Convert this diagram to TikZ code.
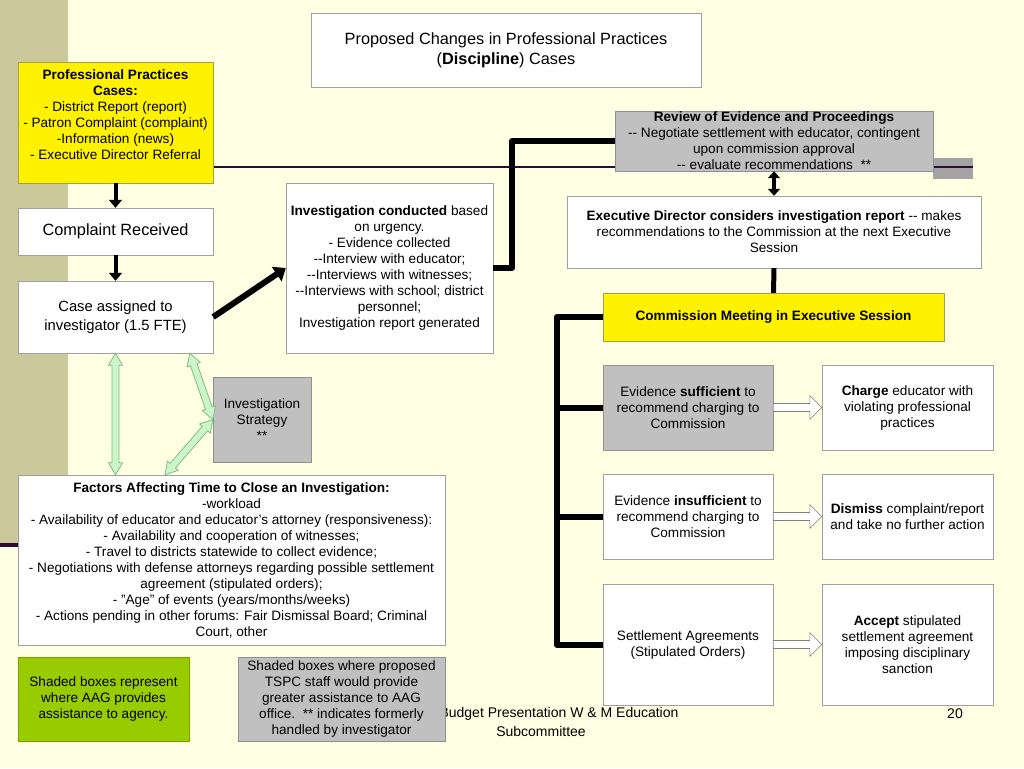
\documentclass[tikz,border=0pt]{standalone}
\usepackage{fontspec}
\setmainfont{Liberation Sans}
\usetikzlibrary{calc,arrows.meta}

\definecolor{slidebg}{HTML}{FFFFE3}
\definecolor{band}{HTML}{CBC89C}
\definecolor{rule}{HTML}{2E0B36}
\definecolor{boxline}{HTML}{A0A0A0}
\definecolor{shade}{HTML}{C0C0C0}
\definecolor{aag}{HTML}{99CC00}
\definecolor{mint}{HTML}{CCF5CC}
\definecolor{mintline}{HTML}{7DBF7D}

\tikzset{
  box/.style={draw=boxline, fill=white, align=center, inner sep=0pt,
    font=\fontsize{13.6}{16}\selectfont},
  shaded/.style={box, fill=shade, draw=shade!75!black},
  yellowbox/.style={box, fill=yellow, draw=yellow!60!black},
  greenbox/.style={box, fill=aag, draw=aag!80!black},
  flow/.style={line width=4, -{Triangle[length=8pt,width=13pt]}},
  bracket/.style={line width=6, line join=round},
  hollow/.style={draw=gray, fill=white, line width=0.6},
  mintarrow/.style={draw=mintline, fill=mint, line width=0.8},
  footer/.style={font=\fontsize{14}{17}\selectfont}
}

\newcommand{\blockarrow}[3][]{%
  \coordinate (ba-n) at ($(#3)!12pt!(#2)$);
  \draw[#1] ($(#2)!4pt!90:(#3)$) -- ($(ba-n)!4pt!-90:(#2)$)
    -- ($(ba-n)!12pt!-90:(#2)$) -- (#3)
    -- ($(ba-n)!12pt!90:(#2)$) -- ($(ba-n)!4pt!90:(#2)$)
    -- ($(#2)!4pt!-90:(#3)$) -- cycle;}

\newcommand{\dblarrow}[3][]{%
  \coordinate (da-m) at ($(#2)!12pt!(#3)$);
  \coordinate (da-n) at ($(#3)!12pt!(#2)$);
  \draw[#1] (#2) -- ($(da-m)!7pt!90:(#3)$) -- ($(da-m)!3.5pt!90:(#3)$)
    -- ($(da-n)!3.5pt!-90:(#2)$) -- ($(da-n)!7pt!-90:(#2)$) -- (#3)
    -- ($(da-n)!7pt!90:(#2)$) -- ($(da-n)!3.5pt!90:(#2)$)
    -- ($(da-m)!3.5pt!-90:(#3)$) -- ($(da-m)!7pt!-90:(#3)$) -- cycle;}

\begin{document}
\begin{tikzpicture}[x=1pt,y=-1pt]
            \useasboundingbox (0,0) rectangle (1024,768);
            \fill [slidebg] (0,0) rectangle (1024,768);
            \fill [band] (0,0) rectangle (68,545);
            \draw [rule, line width=4] (0,545) -- (200,545);
            \fill [shade!85!black] (933,158) rectangle (973,179);
            \draw [rule, line width=2] (100,167) -- (973,167);

            \node at (436,714) [anchor=west, footer] (foot) {Budget Presentation W \& M Education};
            \node at (541,731) [footer] (foot2) {Subcommittee};
            \node at (955,714) [footer] (page) {20};

            \node at (506,50) [box, minimum width=390, minimum height=74, font=\fontsize{16.3}{20}\selectfont] (title)
                {Proposed Changes in Professional Practices\\(\textbf{Discipline}) Cases};
            \node at (115.5,122.5) [yellowbox, minimum width=195, minimum height=121, text depth=16pt] (cases)
                {\textbf{Professional Practices}\\\textbf{Cases:}\\- District Report (report)\\- Patron Complaint (complaint)\\-Information (news)\\- Executive Director Referral};
            \node at (115.5,231.5) [box, minimum width=195, minimum height=47, font=\fontsize{16.3}{20}\selectfont] (received)
                {Complaint Received};
            \node at (115.5,317) [box, minimum width=195, minimum height=72, font=\fontsize{14.8}{19}\selectfont] (assigned)
                {Case assigned to\\investigator (1.5 FTE)};
            \node at (389.5,268) [box, minimum width=207, minimum height=170] (conducted)
                {\textbf{Investigation conducted} based\\on urgency.\\- Evidence collected\\-{}-Interview with educator;\\-{}-Interviews with witnesses;\\-{}-Interviews with school; district\\personnel;\\Investigation report generated};
            \node at (262,419.5) [shaded, minimum width=98, minimum height=85] (strategy)
                {Investigation\\Strategy\\**};
            \node at (231.5,560) [box, minimum width=427, minimum height=170] (factors)
                {\textbf{Factors Affecting Time to Close an Investigation:}\\-workload\\- Availability of educator and educator's attorney (responsiveness):\\- Availability and cooperation of witnesses;\\- Travel to districts statewide to collect evidence;\\- Negotiations with defense attorneys regarding possible settlement\\agreement (stipulated orders);\\- "Age" of events (years/months/weeks)\\- Actions pending in other forums: Fair Dismissal Board; Criminal\\Court, other};
            \node at (103.5,699) [greenbox, minimum width=171, minimum height=84] (aagkey)
                {Shaded boxes represent\\where AAG provides\\assistance to agency.};
            \node at (341.5,699) [shaded, minimum width=207, minimum height=84] (tspckey)
                {Shaded boxes where proposed\\TSPC staff would provide\\greater assistance to AAG\\office.\ \ ** indicates formerly\\handled by investigator};

            \node at (774,141) [shaded, minimum width=318, minimum height=60] (review)
                {\textbf{Review of Evidence and Proceedings}\\-{}- Negotiate settlement with educator, contingent\\upon commission approval\\-{}- evaluate recommendations\ \ **};
            \node at (774,232) [box, minimum width=414, minimum height=72] (execdir)
                {\textbf{Executive Director considers investigation report} -{}- makes\\recommendations to the Commission at the next Executive\\Session};
            \node at (773.5,317) [yellowbox, minimum width=341, minimum height=48] (meeting)
                {\textbf{Commission Meeting in Executive Session}};
            \node at (688,407.5) [shaded, minimum width=170, minimum height=85] (suff)
                {Evidence \textbf{sufficient} to\\recommend charging to\\Commission};
            \node at (907.5,407.5) [box, minimum width=171, minimum height=85] (charge)
                {\textbf{Charge} educator with\\violating professional\\practices};
            \node at (688,516.5) [box, minimum width=170, minimum height=85] (insuff)
                {Evidence \textbf{insufficient} to\\recommend charging to\\Commission};
            \node at (907.5,516.5) [box, minimum width=171, minimum height=85] (dismiss)
                {\textbf{Dismiss} complaint/report\\and take no further action};
            \node at (688,644.5) [box, minimum width=170, minimum height=121] (settle)
                {Settlement Agreements\\(Stipulated Orders)};
            \node at (907.5,644.5) [box, minimum width=171, minimum height=121] (accept)
                {\textbf{Accept} stipulated\\settlement agreement\\imposing disciplinary\\sanction};

            \draw [flow] (cases.south) -- (received.north);
            \draw [flow] (received.south) -- (assigned.north);
            \draw [line width=6, -{Triangle[length=11pt,width=17pt]}] (assigned.east) -- (conducted.west);
            \draw [bracket] (conducted.east) -- ++(19,0) |- (review.west);
            \draw [line width=4, {Triangle[length=7pt,width=12pt]}-{Triangle[length=7pt,width=12pt]}] (review.south) -- (execdir.north);
            \draw [line width=5] (execdir.south) -- (meeting.north);
            \draw [bracket] (meeting.west) -| ($(settle.west)+(-46,0)$) -- (settle.west);
            \draw [bracket] (suff.west) -- ++(-46,0);
            \draw [bracket] (insuff.west) -- ++(-46,0);

            \blockarrow[hollow]{suff.east}{charge.west}
            \blockarrow[hollow]{insuff.east}{dismiss.west}
            \blockarrow[hollow]{settle.east}{accept.west}

            \coordinate (fac-top) at (assigned.south |- factors.north);
            \dblarrow[mintarrow]{assigned.south}{fac-top}
            \dblarrow[mintarrow]{assigned.-26}{strategy.west}
            \dblarrow[mintarrow]{factors.128}{strategy.west}
        \end{tikzpicture}
\end{document}
